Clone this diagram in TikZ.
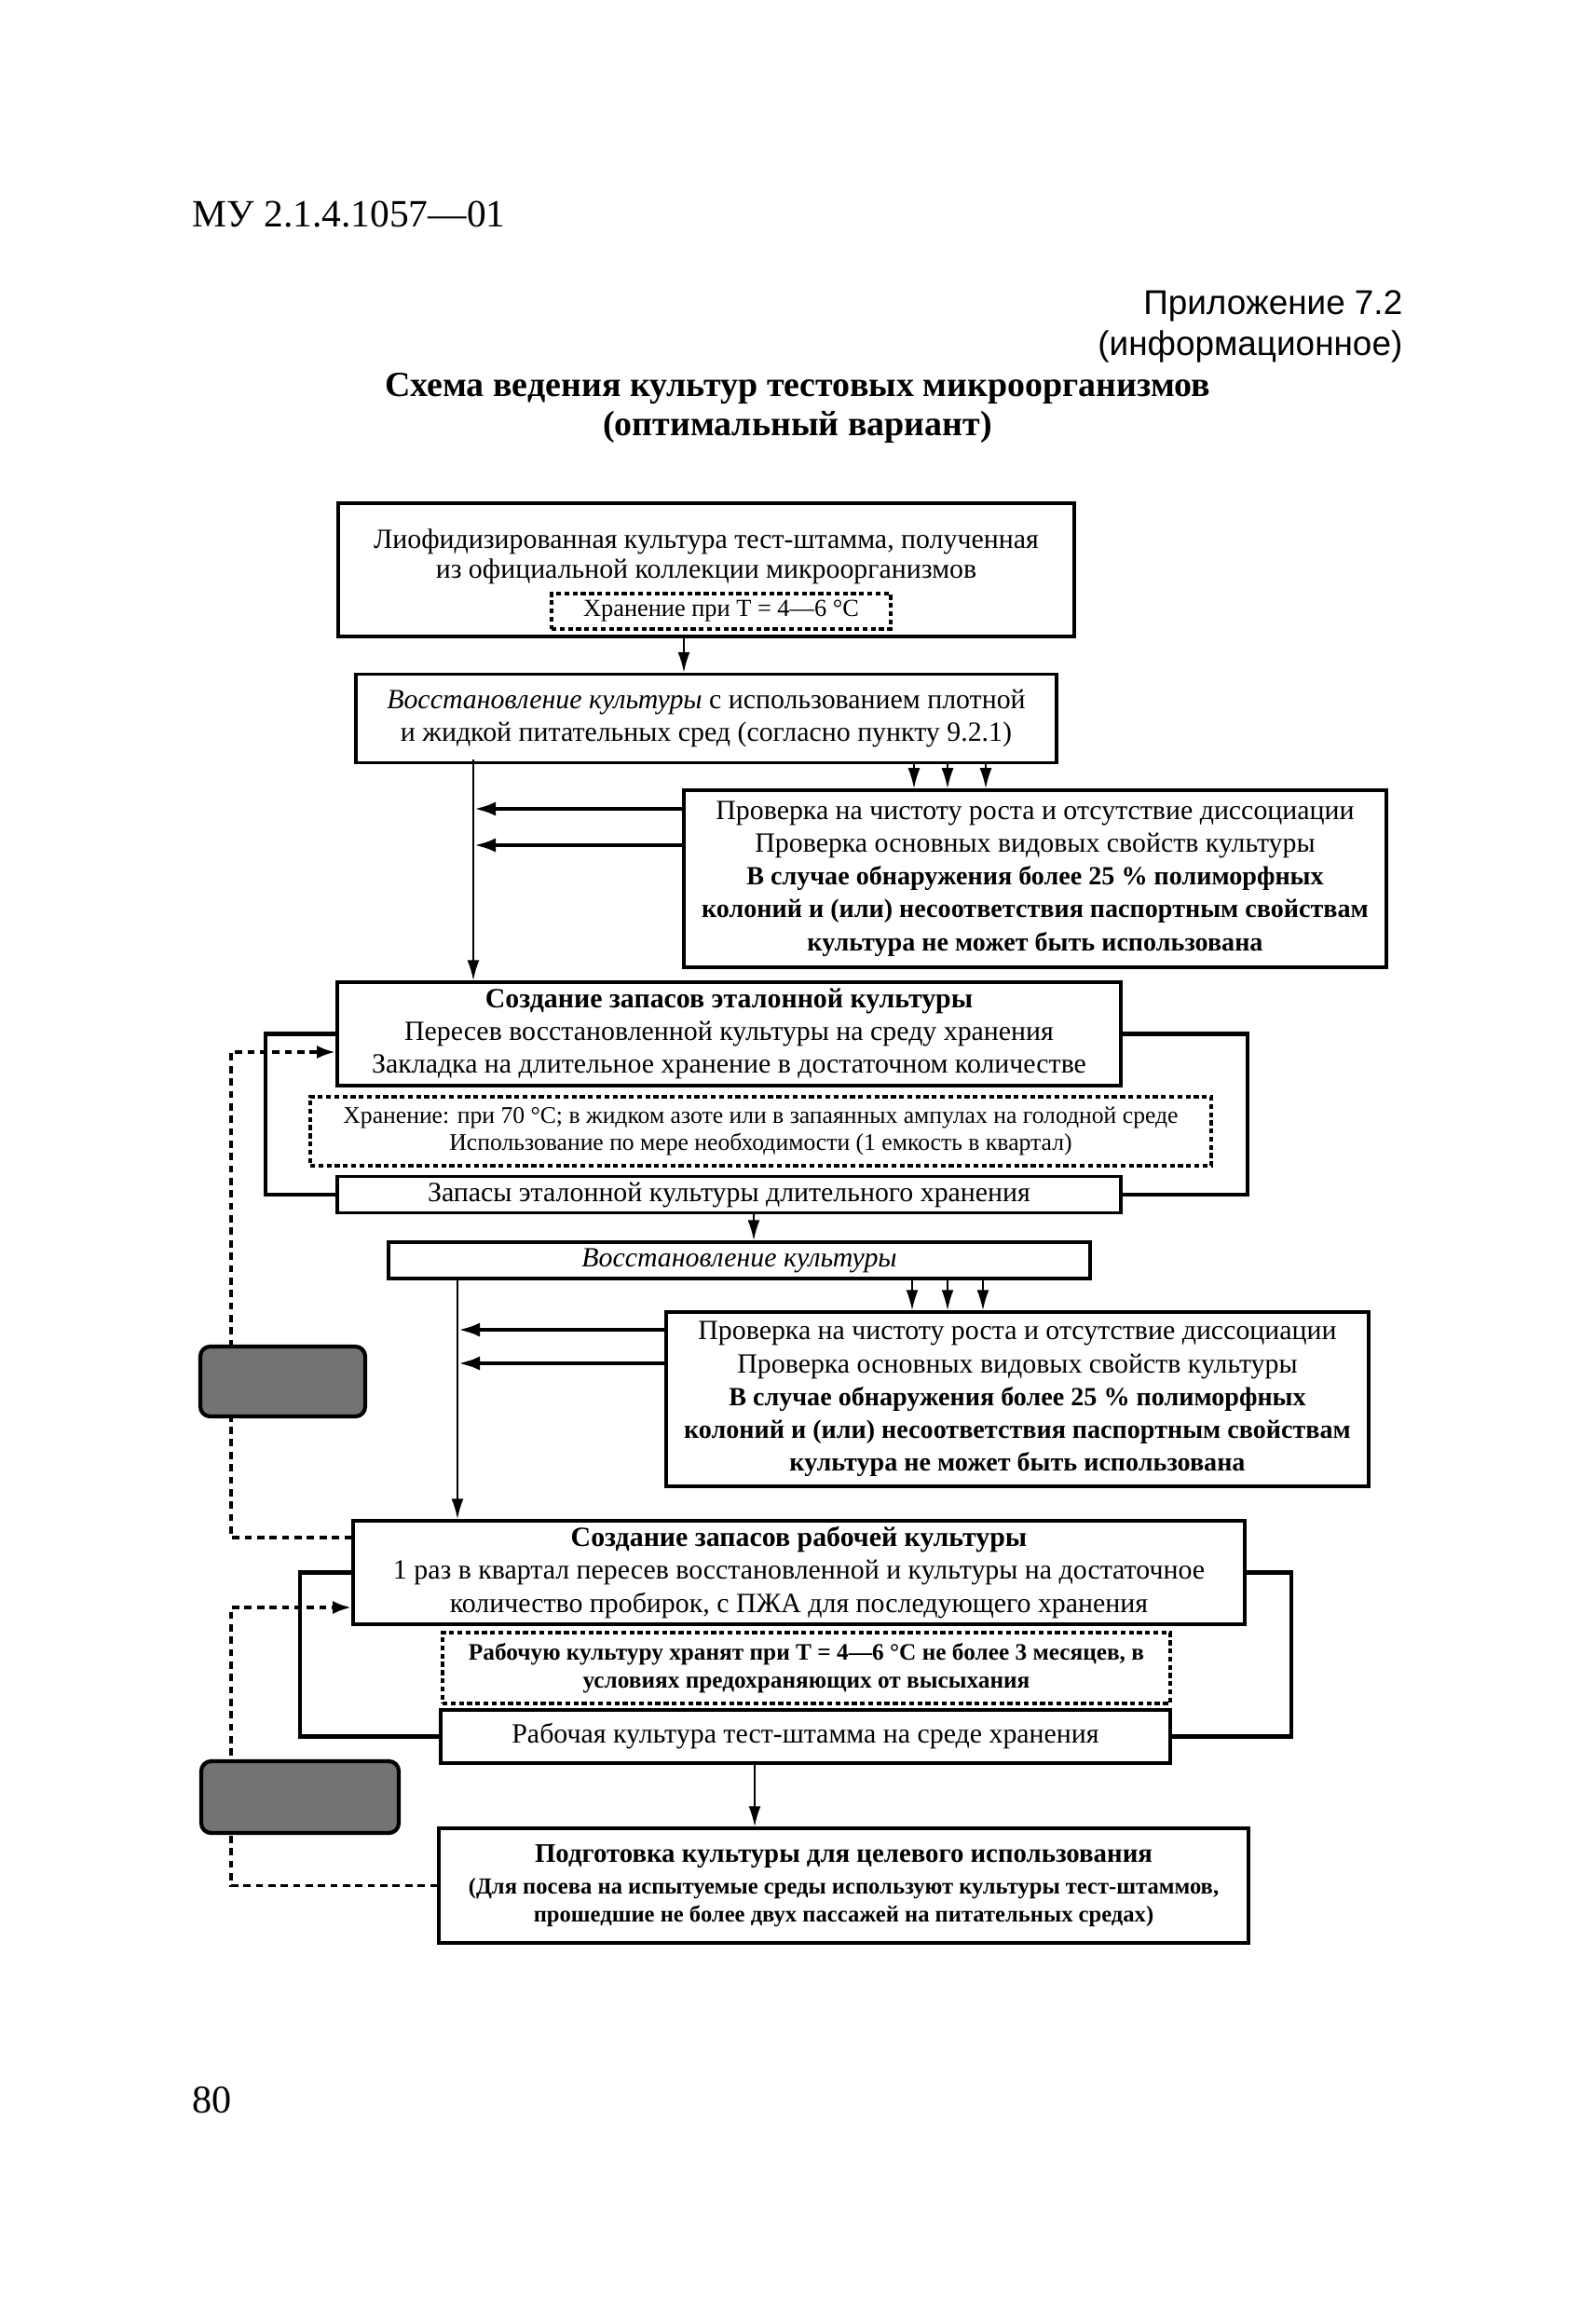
\documentclass[tikz,border=0pt]{standalone}
\usepackage{fontspec}
\setmainfont{Liberation Serif}
\newfontfamily\headsans{Liberation Sans}
\usetikzlibrary{arrows.meta,positioning}

\newcommand{\warnline}[1]{{\bfseries\fontsize{8}{10}\selectfont #1}}

\begin{document}
\begin{tikzpicture}[
    box/.style={draw, line width=1pt, inner sep=0pt, align=center,
                font=\fontsize{8.5}{10}\selectfont},
    store/.style={draw, line width=0.9pt, dash pattern=on 1.5pt off 1pt,
                  inner sep=0pt, align=center, font=\fontsize{7.3}{8.2}\selectfont},
    txt/.style={inner sep=0pt, align=center},
    grey/.style={draw, line width=1.2pt, rounded corners=3pt, fill=black!55},
    arr/.style={-{Latex[length=2.2mm, width=1.3mm]}, line width=0.6pt},
    harr/.style={-{Latex[length=2.4mm, width=1.5mm]}, line width=1.4pt},
    frame/.style={line width=1.2pt},
    back/.style={line width=1.1pt, dash pattern=on 2.2pt off 1.6pt},
    backarr/.style={back, -{Latex[length=2mm, width=1.4mm]}}
  ]
  \useasboundingbox (0,0) rectangle (17.12,-24.80);
  \fill[white] (0,0) rectangle (17.12,-24.80);

  % Page head
  \node[txt, anchor=west, font=\fontsize{11.8}{14}\selectfont] (code) at (2.06,-2.30) {МУ 2.1.4.1057—01};
  \node[txt, anchor=east, font=\headsans\fontsize{10.5}{12}\selectfont] (app) at (15.06,-3.28) {Приложение 7.2};
  \node[txt, anchor=east, font=\headsans\fontsize{10.5}{12}\selectfont] (appkind) at (15.06,-3.72) {(информационное)};
  \node[txt, font=\bfseries\fontsize{10.8}{11.8}\selectfont] (title) at (8.56,-4.38)
    {Схема ведения культур тестовых микроорганизмов\\(оптимальный вариант)};

  % Lyophilised culture
  \node[box, minimum width=7.90cm, minimum height=1.43cm] (lyo) at (7.58,-6.115) {};
  \node[txt, font=\fontsize{8.5}{9}\selectfont] (lyotext) at (7.58,-5.975)
    {Лиофидизированная культура тест-штамма, полученная\\из официальной коллекции микроорганизмов};
  \node[store, minimum width=3.64cm, minimum height=0.38cm, font=\fontsize{7.5}{9}\selectfont]
    (lyostore) at (7.74,-6.56) {Хранение при Т = 4—6 °С};
  \node[box, minimum width=7.52cm, minimum height=0.95cm, below=0.37cm of lyo] (restore1)
    {\textit{Восстановление культуры} с использованием плотной\\и жидкой питательных сред (согласно пункту 9.2.1)};
  \node[box, minimum width=7.54cm, minimum height=1.90cm] (check1) at (11.11,-9.43)
    {Проверка на чистоту роста и отсутствие диссоциации\\
     Проверка основных видовых свойств культуры\\
     \warnline{В случае обнаружения более 25 \% полиморфных}\\
     \warnline{колоний и (или) несоответствия паспортным свойствам}\\
     \warnline{культура не может быть использована}};

  % Reference culture
  \node[box, minimum width=8.41cm, minimum height=1.11cm] (etalon) at (7.825,-11.095)
    {\textbf{Создание запасов эталонной культуры}\\
     Пересев восстановленной культуры на среду хранения\\
     Закладка на длительное хранение в достаточном количестве};
  \node[store, minimum width=9.67cm, minimum height=0.74cm] (etstore) at (8.165,-12.14)
    {Хранение: при 70 °С; в жидком азоте или в запаянных ампулах на голодной среде\\
     Использование по мере необходимости (1 емкость в квартал)};
  \node[box, minimum width=8.41cm, minimum height=0.39cm, below=0.94cm of etalon] (etstock)
    {Запасы эталонной культуры длительного хранения};
  \node[box, minimum width=7.53cm, minimum height=0.39cm] (restore2) at (7.935,-13.525)
    {\textit{Восстановление культуры}};
  \node[box, minimum width=7.54cm, minimum height=1.87cm] (check2) at (10.92,-15.015)
    {Проверка на чистоту роста и отсутствие диссоциации\\
     Проверка основных видовых свойств культуры\\
     \warnline{В случае обнаружения более 25 \% полиморфных}\\
     \warnline{колоний и (или) несоответствия паспортным свойствам}\\
     \warnline{культура не может быть использована}};

  % Working culture
  \node[box, minimum width=9.57cm, minimum height=1.11cm] (work) at (8.575,-16.875)
    {\textbf{Создание запасов рабочей культуры}\\
     1 раз в квартал пересев восстановленной и культуры на достаточное\\
     количество пробирок, с ПЖА для последующего хранения};
  \node[store, minimum width=7.81cm, minimum height=0.76cm, font=\bfseries\fontsize{7.2}{8.4}\selectfont]
    (workstore) at (8.655,-17.90)
    {Рабочую культуру хранят при Т = 4—6 °С не более 3 месяцев, в\\
     условиях предохраняющих от высыхания};
  \node[box, minimum width=7.83cm, minimum height=0.57cm] (workstock) at (8.645,-18.635)
    {Рабочая культура тест-штамма на среде хранения};
  \node[box, minimum width=8.69cm, minimum height=1.23cm, font=\bfseries\fontsize{7}{8.6}\selectfont]
    (prep) at (9.055,-20.235)
    {{\fontsize{8.2}{10}\selectfont Подготовка культуры для целевого использования}\\[1pt]
     (Для посева на испытуемые среды используют культуры тест-штаммов,\\
     прошедшие не более двух пассажей на питательных средах)};

  \node[txt, anchor=west, font=\fontsize{12}{14}\selectfont] (pagenum) at (2.06,-22.54) {80};

  % Trunks
  \coordinate (trunk1) at (5.08,-8.15);
  \coordinate (trunk2) at (4.91,-13.72);
  \coordinate (fb1) at (2.48,-11.29);
  \coordinate (fb2) at (2.48,-17.25);

  % Arrows
  \draw[arr] ([xshift=-2.4mm]lyo.south) -- ([xshift=-2.4mm]restore1.north);
  \foreach \ax in {9.81,10.17,10.58}
    \draw[arr] (restore1.south -| \ax,0) -- (check1.north -| \ax,0);
  \draw[arr] (trunk1) -- (trunk1 |- etalon.north);
  \foreach \ay in {-8.68,-9.07}
    \draw[harr] (check1.west |- 0,\ay) -- (trunk1 |- 0,\ay);
  \draw[frame] (etalon.west) -- ++(-0.75,0) |- (etstock.west);
  \draw[frame] (etalon.east) -- ++(1.34,0) |- (etstock.east);
  \draw[arr] (etstock.south -| 8.09,0) -- (restore2.north -| 8.09,0);
  \foreach \ax in {9.79,10.17,10.55}
    \draw[arr] (restore2.south -| \ax,0) -- (check2.north -| \ax,0);
  \draw[arr] (trunk2) -- (trunk2 |- work.north);
  \foreach \ay in {-14.27,-14.63}
    \draw[harr] (check2.west |- 0,\ay) -- (trunk2 |- 0,\ay);
  \draw[frame] (work.west) -- ++(-0.55,0) |- (workstock.west);
  \draw[frame] (work.east) -- ++(0.48,0) |- (workstock.east);
  \draw[arr] (workstock.south -| 8.10,0) -- (prep.north -| 8.10,0);

  % Feedback
  \draw[backarr] ([yshift=3.75mm]work.west) -| (fb1) -- (fb1 -| etalon.west);
  \draw[backarr] (prep.west) -| (fb2) -- (fb2 -| work.west);
  \node[grey, minimum width=1.77cm, minimum height=0.75cm] (grey1) at (3.035,-14.825) {};
  \node[grey, minimum width=2.12cm, minimum height=0.77cm] (grey2) at (3.22,-19.285) {};
\end{tikzpicture}
\end{document}
